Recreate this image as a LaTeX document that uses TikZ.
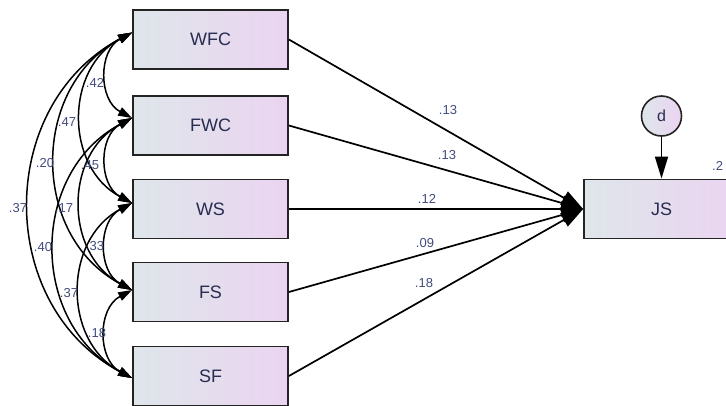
\documentclass[tikz,border=0pt]{standalone}
\usepackage{fontspec}
\setmainfont{Liberation Sans}
\usetikzlibrary{arrows.meta}
\definecolor{boxL}{RGB}{222,230,234}
\definecolor{boxR}{RGB}{235,212,241}
\definecolor{edgec}{RGB}{35,35,35}
\definecolor{labc}{RGB}{65,75,125}
\definecolor{txtc}{RGB}{40,44,80}
\begin{document}
\begin{tikzpicture}[x=1pt,y=-1pt,
  var/.style={draw=edgec, line width=1.8pt, left color=boxL, right color=boxR,
    minimum width=155pt, minimum height=59pt, inner sep=0pt,
    font=\fontsize{18}{20}\selectfont, text=txtc},
  err/.style={circle, draw=edgec, line width=1.6pt, left color=boxL, right color=boxR,
    minimum size=40pt, inner sep=0pt, font=\fontsize{16}{18}\selectfont, text=txtc},
  lab/.style={font=\fontsize{13}{14}\selectfont, text=labc, inner sep=0pt},
  reg/.style={line width=1.7pt, draw=black, -{Triangle[length=22pt,width=15pt]}},
  cov/.style={line width=1.5pt, draw=black,
    {Triangle[length=14pt,width=9pt]}-{Triangle[length=14pt,width=9pt]},
    out=208, in=152, looseness=1.15},
  dar/.style={line width=1.7pt, draw=black, -{Triangle[length=22pt,width=13pt]}}
]
\useasboundingbox (0,0) rectangle (726,405);
\clip (0,0) rectangle (726,405);

\node[var] (WFC) at (210.5,39.5) {WFC};
\node[var] (FWC) at (210.5,125.5) {FWC};
\node[var] (WS)  at (210.5,209) {WS};
\node[var] (FS)  at (210.5,292) {FS};
\node[var] (SF)  at (210.5,376) {SF};
\node[var] (JS)  at (661.5,209) {JS};
\node[err] (d)   at (661.5,116) {d};

\coordinate (pWFC) at ([yshift=7pt]WFC.west);
\coordinate (pFWC) at ([yshift=7.5pt]FWC.west);
\coordinate (pWS)  at ([yshift=6pt]WS.west);
\coordinate (pFS)  at ([yshift=2pt]FS.west);
\coordinate (pSF)  at ([yshift=-2pt]SF.west);

% regressions
\draw[reg] (WFC.east) -- (JS.west);
\draw[reg] (FWC.east) -- (JS.west);
\draw[reg] (WS.east)  -- (JS.west);
\draw[reg] (FS.east)  -- (JS.west);
\draw[reg] (SF.east)  -- (JS.west);
\draw[dar] (d.south) -- (JS.north);

% covariances
\draw[cov] (pWFC) to (pFWC);
\draw[cov] (pWFC) to (pWS);
\draw[cov] (pWFC) to (pFS);
\draw[cov] (pWFC) to (pSF);
\draw[cov] (pFWC) to (pWS);
\draw[cov] (pFWC) to (pFS);
\draw[cov] (pFWC) to (pSF);
\draw[cov] (pWS) to (pFS);
\draw[cov] (pWS) to (pSF);
\draw[cov] (pFS) to (pSF);

% labels
\node[lab] (l1) at (448,110) {.13};
\node[lab] (l2) at (447,155) {.13};
\node[lab] (l3) at (427,199) {.12};
\node[lab] (l4) at (425,243) {.09};
\node[lab] (l5) at (424,283) {.18};
\node[lab, anchor=west] (l6) at (712,166) {.2};

\node[lab] (c1) at (95,83) {.42};
\node[lab] (c2) at (67,122) {.47};
\node[lab] (c3) at (45,163) {.20};
\node[lab] (c4) at (18,208) {.37};
\node[lab] (c5) at (90,165) {.45};
\node[lab] (c6) at (64,208) {.17};
\node[lab] (c7) at (43,247) {.40};
\node[lab] (c8) at (95,246) {.33};
\node[lab] (c9) at (69,293) {.37};
\node[lab] (c10) at (97,333) {.18};
\end{tikzpicture}
\end{document}
